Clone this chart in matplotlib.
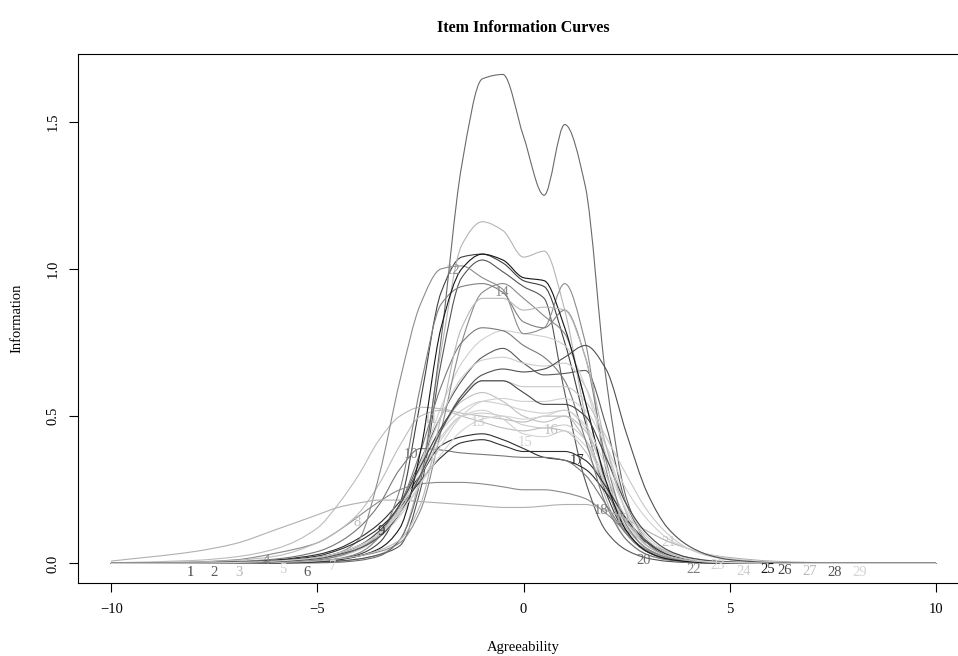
import numpy as np
import matplotlib
matplotlib.use("Agg")
import matplotlib.pyplot as plt
from matplotlib.path import Path
from matplotlib.patches import PathPatch

plt.rcParams['font.family'] = ['Liberation Serif', 'DejaVu Serif']

# ---------------- data ----------------
theta = [-10, -8, -7, -6, -5, -4.5, -4, -3.5, -3, -2.5, -2, -1.5, -1, -0.5,
         0, 0.5, 1, 1.5, 2, 2.5, 3, 3.5, 4, 4.5, 5, 6, 7, 8, 10]

item01 = [0, 0, 0.001, 0.003, 0.008, 0.015, 0.03, 0.07, 0.20, 0.55, 0.92, 1.04, 1.05, 1.02, 0.96, 0.94, 0.75, 0.48, 0.24, 0.10, 0.04, 0.015, 0.006, 0.002, 0.001, 0, 0, 0, 0]
item02 = [0, 0.001, 0.002, 0.006, 0.015, 0.03, 0.05, 0.10, 0.20, 0.35, 0.50, 0.62, 0.70, 0.73, 0.68, 0.64, 0.645, 0.655, 0.47, 0.20, 0.08, 0.03, 0.012, 0.005, 0.002, 0, 0, 0, 0]
item03 = [0, 0, 0, 0.001, 0.003, 0.007, 0.015, 0.03, 0.08, 0.30, 0.72, 1.08, 1.16, 1.13, 1.04, 1.06, 0.86, 0.50, 0.22, 0.08, 0.03, 0.012, 0.005, 0.002, 0.001, 0, 0, 0, 0]
item04 = [0.001, 0.005, 0.012, 0.035, 0.07, 0.11, 0.16, 0.21, 0.25, 0.27, 0.275, 0.275, 0.27, 0.26, 0.25, 0.25, 0.24, 0.22, 0.17, 0.11, 0.07, 0.04, 0.02, 0.01, 0.006, 0.002, 0.001, 0, 0]
item05 = [0, 0, 0.001, 0.004, 0.012, 0.025, 0.05, 0.10, 0.20, 0.33, 0.45, 0.52, 0.55, 0.54, 0.52, 0.51, 0.52, 0.46, 0.30, 0.15, 0.06, 0.025, 0.01, 0.004, 0.002, 0.001, 0, 0, 0]
item06 = [0, 0, 0, 0.002, 0.004, 0.008, 0.015, 0.03, 0.06, 0.25, 0.68, 0.97, 1.03, 0.99, 0.94, 0.90, 0.58, 0.28, 0.11, 0.045, 0.018, 0.007, 0.003, 0.001, 0, 0, 0, 0, 0]
item07 = [0, 0, 0.001, 0.004, 0.012, 0.022, 0.045, 0.09, 0.18, 0.34, 0.53, 0.68, 0.76, 0.79, 0.78, 0.77, 0.74, 0.60, 0.37, 0.18, 0.08, 0.03, 0.012, 0.005, 0.002, 0.001, 0, 0, 0]
item08 = [0.001, 0.004, 0.01, 0.025, 0.07, 0.11, 0.17, 0.27, 0.40, 0.50, 0.52, 0.50, 0.48, 0.46, 0.45, 0.46, 0.45, 0.38, 0.25, 0.12, 0.05, 0.02, 0.01, 0.004, 0.002, 0.001, 0, 0, 0]
item09 = [0, 0.002, 0.005, 0.012, 0.03, 0.05, 0.085, 0.135, 0.21, 0.30, 0.40, 0.43, 0.44, 0.42, 0.39, 0.36, 0.35, 0.32, 0.24, 0.14, 0.07, 0.03, 0.013, 0.006, 0.003, 0.001, 0, 0, 0]
item10 = [0, 0.002, 0.006, 0.015, 0.04, 0.07, 0.12, 0.20, 0.32, 0.39, 0.385, 0.375, 0.37, 0.365, 0.36, 0.36, 0.35, 0.30, 0.20, 0.10, 0.045, 0.02, 0.008, 0.003, 0.001, 0, 0, 0, 0]
item11 = [0.002, 0.01, 0.022, 0.05, 0.12, 0.20, 0.30, 0.42, 0.50, 0.53, 0.525, 0.51, 0.50, 0.49, 0.48, 0.50, 0.50, 0.42, 0.26, 0.12, 0.05, 0.02, 0.008, 0.003, 0.001, 0, 0, 0, 0]
item12 = [0, 0, 0.001, 0.004, 0.015, 0.035, 0.08, 0.30, 0.62, 0.88, 1.00, 1.01, 0.97, 0.93, 0.78, 0.80, 0.95, 0.75, 0.32, 0.11, 0.04, 0.015, 0.005, 0.002, 0.001, 0, 0, 0, 0]
item13 = [0, 0.001, 0.003, 0.008, 0.02, 0.035, 0.06, 0.11, 0.20, 0.32, 0.43, 0.50, 0.51, 0.50, 0.47, 0.46, 0.47, 0.42, 0.28, 0.14, 0.06, 0.025, 0.01, 0.004, 0.002, 0.001, 0, 0, 0]
item14 = [0, 0, 0.001, 0.003, 0.008, 0.015, 0.025, 0.04, 0.07, 0.18, 0.45, 0.75, 0.92, 0.95, 0.90, 0.84, 0.78, 0.55, 0.27, 0.10, 0.04, 0.015, 0.006, 0.002, 0.001, 0, 0, 0, 0]
item15 = [0, 0.001, 0.003, 0.008, 0.02, 0.035, 0.06, 0.10, 0.18, 0.30, 0.42, 0.50, 0.52, 0.49, 0.44, 0.43, 0.45, 0.40, 0.27, 0.13, 0.06, 0.025, 0.01, 0.004, 0.002, 0.001, 0, 0, 0]
item16 = [0, 0.001, 0.002, 0.006, 0.015, 0.03, 0.05, 0.09, 0.17, 0.30, 0.45, 0.55, 0.58, 0.55, 0.50, 0.48, 0.50, 0.45, 0.30, 0.15, 0.06, 0.025, 0.01, 0.004, 0.002, 0.001, 0, 0, 0]
item17 = [0, 0.001, 0.004, 0.01, 0.025, 0.045, 0.075, 0.12, 0.19, 0.28, 0.36, 0.41, 0.42, 0.40, 0.38, 0.38, 0.38, 0.35, 0.26, 0.15, 0.075, 0.035, 0.015, 0.007, 0.003, 0.001, 0, 0, 0]
item18 = [0, 0, 0.001, 0.004, 0.012, 0.025, 0.05, 0.10, 0.20, 0.38, 0.60, 0.75, 0.80, 0.79, 0.74, 0.70, 0.62, 0.42, 0.20, 0.08, 0.03, 0.012, 0.005, 0.002, 0.001, 0, 0, 0, 0]
item19 = [0.008, 0.04, 0.067, 0.115, 0.165, 0.19, 0.205, 0.215, 0.215, 0.21, 0.205, 0.20, 0.195, 0.19, 0.19, 0.195, 0.20, 0.20, 0.18, 0.15, 0.11, 0.075, 0.05, 0.03, 0.02, 0.008, 0.003, 0.001, 0]
item20 = [0, 0, 0, 0.001, 0.002, 0.004, 0.01, 0.025, 0.08, 0.28, 0.76, 1.35, 1.645, 1.66, 1.45, 1.25, 1.49, 1.28, 0.63, 0.22, 0.07, 0.025, 0.01, 0.004, 0.002, 0.001, 0, 0, 0]
item21 = [0, 0.001, 0.003, 0.008, 0.02, 0.035, 0.06, 0.10, 0.18, 0.30, 0.45, 0.57, 0.62, 0.62, 0.60, 0.60, 0.60, 0.55, 0.43, 0.30, 0.18, 0.10, 0.05, 0.025, 0.012, 0.003, 0.001, 0, 0]
item22 = [0, 0, 0.001, 0.003, 0.008, 0.016, 0.035, 0.09, 0.25, 0.60, 0.88, 0.94, 0.95, 0.92, 0.82, 0.80, 0.86, 0.70, 0.35, 0.13, 0.05, 0.02, 0.008, 0.003, 0.001, 0, 0, 0, 0]
item23 = [0, 0.001, 0.002, 0.006, 0.016, 0.03, 0.05, 0.09, 0.16, 0.27, 0.40, 0.50, 0.55, 0.56, 0.55, 0.55, 0.56, 0.52, 0.40, 0.25, 0.15, 0.085, 0.05, 0.03, 0.017, 0.005, 0.001, 0, 0]
item24 = [0, 0.001, 0.002, 0.005, 0.015, 0.03, 0.055, 0.10, 0.19, 0.33, 0.50, 0.63, 0.69, 0.70, 0.68, 0.67, 0.68, 0.60, 0.40, 0.20, 0.09, 0.04, 0.018, 0.008, 0.003, 0.001, 0, 0, 0]
item25 = [0, 0, 0.001, 0.002, 0.006, 0.012, 0.025, 0.05, 0.12, 0.38, 0.80, 1.00, 1.05, 1.03, 0.97, 0.96, 0.80, 0.55, 0.28, 0.11, 0.04, 0.015, 0.006, 0.002, 0.001, 0, 0, 0, 0]
item26 = [0, 0.001, 0.003, 0.008, 0.02, 0.035, 0.06, 0.11, 0.20, 0.33, 0.46, 0.56, 0.62, 0.62, 0.58, 0.54, 0.54, 0.50, 0.36, 0.20, 0.10, 0.045, 0.02, 0.009, 0.004, 0.001, 0, 0, 0]
item27 = [0, 0, 0.001, 0.003, 0.008, 0.015, 0.025, 0.045, 0.08, 0.20, 0.50, 0.80, 0.90, 0.90, 0.86, 0.87, 0.86, 0.70, 0.40, 0.17, 0.06, 0.025, 0.01, 0.004, 0.002, 0.001, 0, 0, 0]
item28 = [0, 0.001, 0.002, 0.006, 0.016, 0.03, 0.05, 0.09, 0.17, 0.30, 0.45, 0.57, 0.64, 0.66, 0.65, 0.66, 0.70, 0.74, 0.66, 0.44, 0.24, 0.12, 0.06, 0.028, 0.013, 0.003, 0.001, 0, 0]
item29 = [0, 0.001, 0.003, 0.008, 0.02, 0.035, 0.06, 0.10, 0.17, 0.27, 0.37, 0.45, 0.49, 0.50, 0.49, 0.50, 0.52, 0.47, 0.33, 0.18, 0.08, 0.035, 0.015, 0.006, 0.003, 0.001, 0, 0, 0]

items = [item01, item02, item03, item04, item05, item06, item07, item08, item09, item10,
         item11, item12, item13, item14, item15, item16, item17, item18, item19, item20,
         item21, item22, item23, item24, item25, item26, item27, item28, item29]

item_labels = [str(i) for i in range(1, 30)]

item_colors = ['#404040', '#5a5a5a', '#b5b5b5', '#8a8a8a', '#cfcfcf', '#555555', '#d0d0d0',
               '#bdbdbd', '#2e2e2e', '#777777', '#bbbbbb', '#8c8c8c', '#cccccc', '#8a8a8a',
               '#d2d2d2', '#c0c0c0', '#303030', '#7a7a7a', '#b0b0b0', '#6a6a6a', '#c8c8c8',
               '#808080', '#d0d0d0', '#cdcdcd', '#151515', '#454545', '#b8b8b8', '#505050',
               '#d3d3d3']

label_x = [-8.08, -7.5, -6.9, -6.24, -5.85, -5.24, -4.64, -4.03, -3.45, -2.74, -2.25, -1.70,
           -1.10, -0.53, 0.05, 0.68, 1.31, 1.89, 2.38, 2.91, 3.52, 4.13, 4.71, 5.34, 5.92,
           6.34, 6.94, 7.55, 8.16]
label_y = [-0.03, -0.03, -0.03, 0.01, -0.02, -0.03, -0.01, 0.14, 0.11, 0.37, 0.49, 0.995,
           0.48, 0.92, 0.41, 0.45, 0.35, 0.18, 0.15, 0.01, 0.07, -0.02, -0.007, -0.027, -0.02,
           -0.024, -0.027, -0.03, -0.03]

title = "Item Information Curves"
xlabel = "Agreeability"
ylabel = "Information"
xticks = [-10, -5, 0, 5, 10]
yticks = [0.0, 0.5, 1.0, 1.5]
ytick_labels = ["0.0", "0.5", "1.0", "1.5"]


def smooth_path(xs, ys):
    """Monotone (PCHIP) cubic Bezier path through the given points."""
    x = np.asarray(xs, float)
    y = np.asarray(ys, float)
    h = np.diff(x)
    d = np.diff(y) / h
    m = np.zeros_like(y)
    for k in range(1, len(x) - 1):
        if d[k - 1] * d[k] > 0:
            w1 = 2 * h[k] + h[k - 1]
            w2 = h[k] + 2 * h[k - 1]
            m[k] = (w1 + w2) / (w1 / d[k - 1] + w2 / d[k])
    m[0] = d[0]
    m[-1] = d[-1]
    verts = [(x[0], y[0])]
    codes = [Path.MOVETO]
    for k in range(len(x) - 1):
        verts.append((x[k] + h[k] / 3, y[k] + m[k] * h[k] / 3))
        verts.append((x[k + 1] - h[k] / 3, y[k + 1] - m[k + 1] * h[k] / 3))
        verts.append((x[k + 1], y[k + 1]))
        codes += [Path.CURVE4] * 3
    return Path(verts, codes)


W, H = 958, 656
fig = plt.figure(figsize=(W / 100, H / 100), dpi=100)
left_px, right_px, top_px, bottom_px = 78.3, 968.7, 54, 583
ax = fig.add_axes([left_px / W, 1 - bottom_px / H, (right_px - left_px) / W,
                   (bottom_px - top_px) / H])
ax.set_xlim(-10.8, 10.8)
ax.set_ylim(-0.0665, 1.7295)

for vals, col in zip(items, item_colors):
    ax.add_patch(PathPatch(smooth_path(theta, vals), fill=False, edgecolor=col,
                           lw=0.8, capstyle='round', joinstyle='round'))

for lx, ly, lab, col in zip(label_x, label_y, item_labels, item_colors):
    ax.text(lx, ly, lab, color=col, fontsize=10.5, ha='center', va='center')

for s in ax.spines.values():
    s.set_linewidth(0.8)
    s.set_color('black')

ax.set_xticks(xticks)
ax.set_yticks(yticks)
ax.set_yticklabels(ytick_labels, rotation=90, va='center')
ax.tick_params(direction='out', length=6.5, width=0.8, labelsize=10.5, colors='black')
ax.tick_params(axis='x', pad=8)
ax.tick_params(axis='y', pad=7)

fig.text(523.5 / W, 1 - 648 / H, xlabel, ha='center', va='center', fontsize=10.5)
fig.text(17 / W, 1 - 318.5 / H, ylabel, ha='center', va='center', fontsize=10.5, rotation=90)
fig.text(523.5 / W, 1 - 28 / H, title, ha='center', va='center', fontsize=11.5,
         fontweight='bold')

fig.savefig("out.png", dpi=100)
